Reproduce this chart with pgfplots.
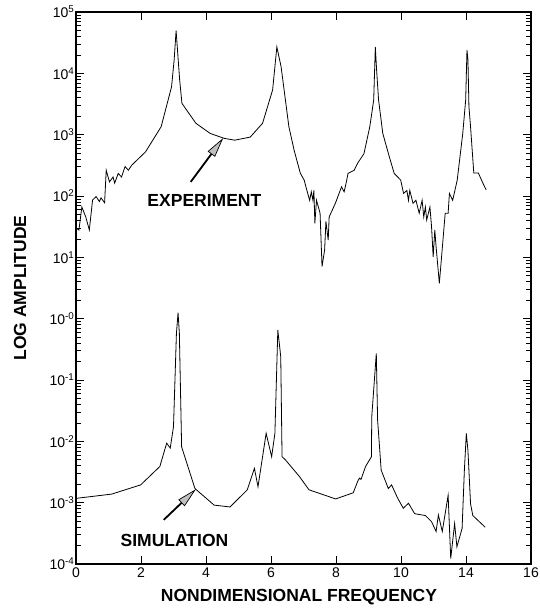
\documentclass[border=0pt]{standalone}
\usepackage{fontspec}
\setmainfont{Liberation Sans}
\usepackage{pgfplots}
\pgfplotsset{compat=1.18}
\usetikzlibrary{arrows.meta}
\begin{document}
\begin{tikzpicture}
\begin{axis}[
  scale only axis, width=455pt, height=552pt,
  xmin=0, xmax=14, ymode=log, ymin=1e-4, ymax=1e5,
  xtick={0,2,4,6,8,10,12,14}, xticklabels={0,2,4,6,8,10,14,16},
  minor x tick num=0,
  ytickten={-4,...,5},
  yticklabels={10\textsuperscript{-4},10\textsuperscript{-3},10\textsuperscript{-2},10\textsuperscript{-1},10\textsuperscript{-0},10\textsuperscript{1},10\textsuperscript{2},10\textsuperscript{3},10\textsuperscript{4},10\textsuperscript{5}},
  tick align=inside,
  major tick length=8pt, minor tick length=5pt,
  tick style={black, line width=0.9pt},
  minor tick style={black, line width=0.6pt},
  axis line style={line width=1.3pt},
  tick label style={font=\fontsize{14}{15}\selectfont},
  yticklabel style={inner sep=1.5pt},
  xticklabel style={inner sep=3.5pt},
  xlabel={NONDIMENSIONAL FREQUENCY},
  ylabel={LOG AMPLITUDE},
  label style={font=\fontsize{17.5}{19}\selectfont\bfseries},
  xlabel style={at={(axis description cs:0.49,-0.0598)}, anchor=center},
  ylabel style={at={(axis description cs:-0.123,0.5)}, anchor=center},
]
% Experiment
\addplot[black, line width=0.8pt] coordinates {
(0.00,30) (0.09,27.9) (0.18,66.1) (0.30,45.7) (0.41,27.9) (0.51,86.1) (0.62,97.7) (0.72,81.3)
(0.77,93.3) (0.88,77.6) (0.93,263) (1.03,170) (1.14,204) (1.19,162) (1.30,234) (1.40,204)
(1.51,302) (1.61,263) (1.72,320) (2.14,525) (2.62,1349) (2.94,6026) (3.02,16600) (3.08,49550)
(3.19,7762) (3.26,3236) (3.69,1531) (4.13,1047) (4.56,871) (4.88,813) (5.36,912) (5.74,1531)
(6.05,5370) (6.18,26900) (6.31,12880) (6.55,1349) (6.71,562) (6.90,237) (7.02,182) (7.13,110)
(7.19,85.1) (7.24,117) (7.29,85.1) (7.32,123) (7.35,35.9) (7.40,85.1) (7.51,52.5) (7.57,7.08)
(7.65,13.2) (7.69,38.5) (7.76,19.1) (7.79,45.7) (7.98,75.9) (8.17,141) (8.25,117) (8.32,170)
(8.37,234) (8.56,263) (8.66,339) (8.86,490) (9.04,1349) (9.16,3673) (9.21,26900) (9.25,11220)
(9.31,3673) (9.44,1047) (9.64,437) (9.79,234) (9.99,182) (10.08,110) (10.18,123) (10.23,85.1)
(10.27,123) (10.37,75.9) (10.46,85.1) (10.56,52.5) (10.65,85.1) (10.70,45.7) (10.75,66.1) (10.79,40.7)
(10.89,66.1) (10.94,31.6) (10.99,10.2) (11.04,27.9) (11.08,14.8) (11.18,3.76) (11.36,52.5) (11.45,52.5)
(11.49,110) (11.59,85.1) (11.73,182) (11.90,1047) (11.99,3673) (12.03,23990) (12.06,16600) (12.09,2884)
(12.14,1349) (12.19,562) (12.24,237) (12.38,237) (12.52,162) (12.62,126)
};
% Simulation
\addplot[black, line width=0.8pt] coordinates {
(0.00,1.175e-3) (1.10,1.38e-3) (1.99,1.95e-3) (2.58,3.89e-3) (2.79,9.33e-3) (2.90,7.76e-3) (3.00,1.74e-2)
(3.09,0.575) (3.14,1.25) (3.18,0.582) (3.25,8.13e-3) (3.66,1.70e-3) (4.25,9.12e-4) (4.74,8.51e-4)
(5.27,1.62e-3) (5.49,3.63e-3) (5.60,1.82e-3) (5.85,1.35e-2) (6.02,5.62e-3) (6.12,1.35e-2) (6.21,0.653)
(6.30,0.240) (6.34,5.62e-3) (6.44,5.01e-3) (6.87,2.69e-3) (7.17,1.62e-3) (7.99,1.15e-3) (8.53,1.45e-3)
(8.67,2.24e-3) (8.72,2.51e-3) (8.77,2.40e-3) (8.91,3.89e-3) (9.09,5.62e-3) (9.10,2.51e-2) (9.24,0.272)
(9.28,2.24e-2) (9.39,3.39e-3) (9.61,1.70e-3) (9.71,1.95e-3) (9.90,1.175e-3) (10.07,8.13e-4) (10.23,9.77e-4)
(10.42,6.61e-4) (10.75,6.17e-4) (10.94,4.90e-4) (11.08,3.39e-4) (11.15,6.31e-4) (11.27,3.39e-4) (11.45,1.32e-3)
(11.53,1.23e-4) (11.65,4.57e-4) (11.72,1.91e-4) (11.88,3.80e-4) (11.95,3.39e-3) (12.01,1.35e-2) (12.06,7.08e-3)
(12.14,9.55e-4) (12.21,6.17e-4) (12.59,3.98e-4)
};
\draw[line width=1.8pt, -{Triangle[length=20pt,width=9pt,fill=gray!50,line width=0.7pt]}]
  (axis cs:3.53,170) -- (axis cs:4.53,881);
\draw[line width=1.8pt, -{Triangle[length=20pt,width=9pt,fill=gray!50,line width=0.7pt]}]
  (axis cs:2.70,5.25e-4) -- (axis cs:3.69,1.66e-3);
\node[font=\fontsize{17.5}{19}\selectfont\bfseries] at (axis cs:3.95,83) {EXPERIMENT};
\node[font=\fontsize{17.5}{19}\selectfont\bfseries] at (axis cs:3.03,2.45e-4) {SIMULATION};
\end{axis}
\pgfresetboundingbox
\path ([shift={(-76pt,-44pt)}]current axis.south west) rectangle ([shift={(8pt,12pt)}]current axis.north east);
\end{tikzpicture}
\end{document}
